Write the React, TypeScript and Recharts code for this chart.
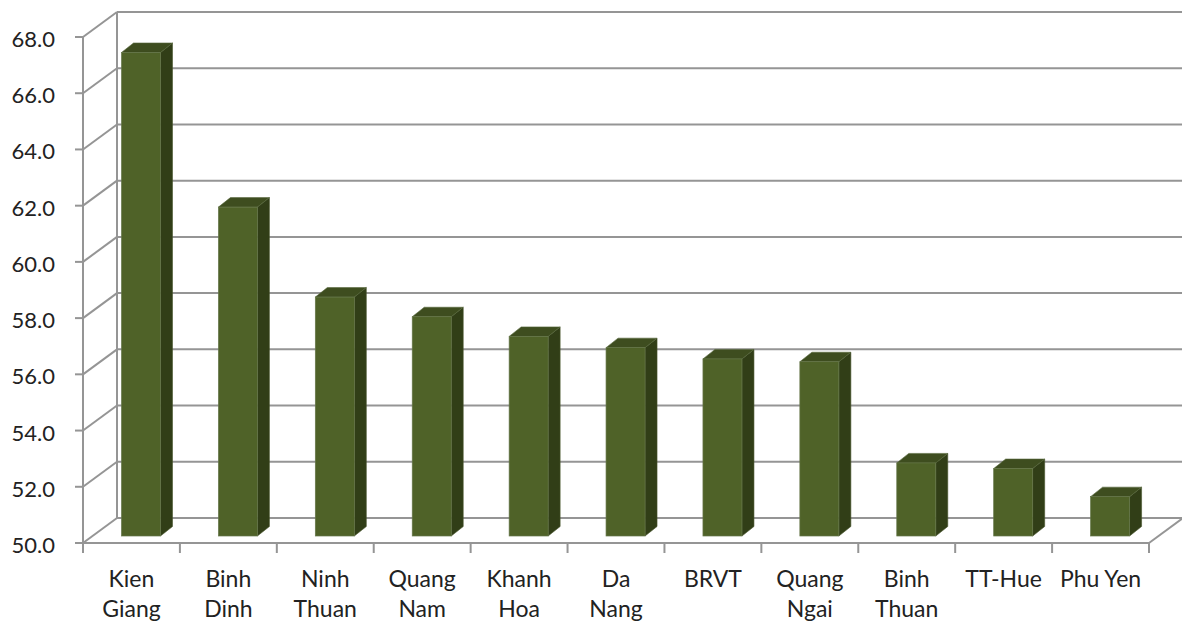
import React from "react";
import { BarChart, Bar, XAxis, YAxis, CartesianGrid } from "recharts";

// Provinces, ranked by score
const provinces = [
  "Kien Giang",
  "Binh Dinh",
  "Ninh Thuan",
  "Quang Nam",
  "Khanh Hoa",
  "Da Nang",
  "BRVT",
  "Quang Ngai",
  "Binh Thuan",
  "TT-Hue",
  "Phu Yen",
];

const scores = [67.2, 61.7, 58.5, 57.8, 57.1, 56.7, 56.3, 56.2, 52.6, 52.4, 51.4];

// Category labels as they wrap under the floor
const provinceLabelLines = [
  ["Kien", "Giang"],
  ["Binh", "Dinh"],
  ["Ninh", "Thuan"],
  ["Quang", "Nam"],
  ["Khanh", "Hoa"],
  ["Da", "Nang"],
  ["BRVT"],
  ["Quang", "Ngai"],
  ["Binh", "Thuan"],
  ["TT-Hue"],
  ["Phu Yen"],
];

const valueTicks = [50, 52, 54, 56, 58, 60, 62, 64, 66, 68];

const data = provinces.map((name, i) => ({ name, score: scores[i] }));

// 3D projection of the chart box: depth of the wall and of the bar row
const DEPTH_X = 34;
const DEPTH_Y = 25;
const ROW_X = 9.5;
const ROW_Y = 7;
const BAR_DX = 12;
const BAR_DY = 9.5;

const GRID = "#959595";
const TEXT = "#222222";
const FONT = "Lato, 'Open Sans', sans-serif";
const FRONT = "#4F6228";
const SIDE = "#313E17";
const TOP = "#3E4D1F";

// Each horizontal grid line runs from the front axis back to the wall, then across it
function WallLine(props: any) {
  const { x1, y1, x2, index, horizontalPoints, y, height } = props;
  const bx = x1 + DEPTH_X;
  const by = y1 - DEPTH_Y;
  let wallTop: number | null = null;
  let wallBottom: number | null = null;
  if (Array.isArray(horizontalPoints) && horizontalPoints.length) {
    wallTop = Math.min(...horizontalPoints);
    wallBottom = Math.max(...horizontalPoints);
  } else if (typeof y === "number" && typeof height === "number") {
    wallTop = y;
    wallBottom = y + height;
  }
  return (
    <g>
      <line x1={x1} y1={y1} x2={bx} y2={by} stroke={GRID} strokeWidth={2} />
      <line x1={bx} y1={by} x2={x2 + DEPTH_X} y2={by} stroke={GRID} strokeWidth={2} />
      {index === 0 && wallTop !== null && wallBottom !== null && (
        <line
          x1={bx}
          y1={wallTop - DEPTH_Y}
          x2={bx}
          y2={wallBottom - DEPTH_Y}
          stroke={GRID}
          strokeWidth={2}
        />
      )}
    </g>
  );
}

function ValueTick(props: any) {
  const { x, y, payload } = props;
  return (
    <g>
      <line x1={x - 8} y1={y} x2={x} y2={y} stroke={GRID} strokeWidth={2} />
      <text
        x={x - 28}
        y={y + 10}
        textAnchor="end"
        fontFamily={FONT}
        fontSize={22}
        fill={TEXT}
      >
        {Number(payload.value).toFixed(1)}
      </text>
    </g>
  );
}

function ProvinceTick(props: any) {
  const { x, y, payload, visibleTicksCount, width } = props;
  let half = payload && payload.offset;
  if (!half) half = width / visibleTicksCount / 2;
  const idx = provinces.indexOf(payload.value);
  const lines = idx >= 0 ? provinceLabelLines[idx] : [String(payload.value)];
  const left = x - half;
  const right = x + half;
  const isLast = idx === provinces.length - 1;
  return (
    <g>
      <line x1={left} y1={y} x2={left} y2={y + 10} stroke={GRID} strokeWidth={2} />
      {isLast && (
        <>
          <line x1={right} y1={y} x2={right} y2={y + 10} stroke={GRID} strokeWidth={2} />
          <line
            x1={right}
            y1={y}
            x2={right + DEPTH_X}
            y2={y - DEPTH_Y}
            stroke={GRID}
            strokeWidth={2}
          />
        </>
      )}
      <text textAnchor="middle" fontFamily={FONT} fontSize={23} fill={TEXT}>
        {lines.map((line, i) => (
          <tspan key={i} x={x} y={y + 44 + i * 30}>
            {line}
          </tspan>
        ))}
      </text>
    </g>
  );
}

// Column with a lit front face, a dark side and a top cap
function Column3D(props: any) {
  const { x, y, width, height } = props;
  if (!(height > 0)) return null;
  const fx = x + ROW_X;
  const fy = y - ROW_Y;
  const r = fx + width;
  const b = fy + height;
  const top = `${fx},${fy} ${fx + BAR_DX},${fy - BAR_DY} ${r + BAR_DX},${fy - BAR_DY} ${r},${fy}`;
  const side = `${r},${fy} ${r + BAR_DX},${fy - BAR_DY} ${r + BAR_DX},${b - BAR_DY} ${r},${b}`;
  return (
    <g>
      <polygon points={side} fill={SIDE} stroke="#48562e" strokeWidth={0.6} />
      <polygon points={top} fill={TOP} stroke="#56663a" strokeWidth={0.6} />
      <rect x={fx} y={fy} width={width} height={height} fill={FRONT} stroke="#66774a" strokeWidth={0.7} />
    </g>
  );
}

export default function App() {
  return (
    <div style={{ position: "fixed", left: 0, top: 0, width: 1182, height: 624, background: "#fff" }}>
      <BarChart
        width={1182}
        height={624}
        data={data}
        margin={{ top: 37, right: 33, bottom: 0, left: 0 }}
      >
        <CartesianGrid horizontal={WallLine as any} vertical={false} />
        <XAxis
          dataKey="name"
          height={81}
          tickLine={false}
          tickSize={0}
          tickMargin={0}
          interval={0}
          axisLine={{ stroke: GRID, strokeWidth: 2 }}
          tick={<ProvinceTick />}
        />
        <YAxis
          width={83}
          domain={[50, 68]}
          ticks={valueTicks}
          interval={0}
          tickLine={false}
          tickSize={0}
          tickMargin={0}
          axisLine={{ stroke: GRID, strokeWidth: 2 }}
          tick={<ValueTick />}
        />
        <Bar dataKey="score" barSize={39} shape={Column3D} isAnimationActive={false} />
      </BarChart>
    </div>
  );
}
